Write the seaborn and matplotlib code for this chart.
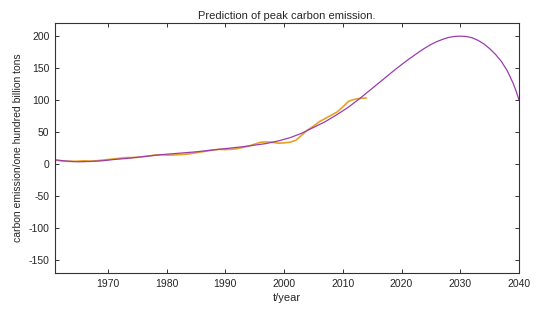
import pandas as pd
import matplotlib
matplotlib.use("Agg")
import matplotlib.pyplot as plt
import seaborn as sns

# === datos ===
anios_reales = list(range(1961, 2015))
emision_real = [6, 5, 4.5, 4, 4.5, 5, 4.5, 5, 6, 7,
                8, 9, 10, 10, 10.5, 11.5, 12.5, 14, 14.5, 14,
                14, 14.5, 15, 16, 17.5, 19, 20.5, 22, 23, 22.5,
                23, 24, 26, 28, 31, 34, 34.5, 34, 32.5, 33,
                34, 37, 45, 53, 59, 66, 71, 76, 81, 89,
                98, 101, 102.5, 103]

anios_ajuste = [1961, 1963, 1965, 1967, 1969, 1971, 1973, 1975, 1977, 1979,
                1981, 1983, 1985, 1987, 1989, 1991, 1993, 1995, 1997, 1999,
                2001, 2003, 2005, 2007, 2009, 2011, 2013, 2015, 2017, 2019,
                2021, 2022, 2023, 2024, 2025, 2026, 2027, 2028, 2029, 2030,
                2031, 2032, 2033, 2034, 2035, 2036, 2037, 2038, 2039, 2039.5,
                2040]
emision_ajuste = [6.5, 4.5, 3.5, 4, 5, 7, 8.5, 10.5, 12.5, 14.5,
                  16, 17.5, 19, 21, 23, 25, 27, 29.5, 32, 36,
                  41, 48, 57, 66, 77, 89, 103, 118, 133, 148,
                  162, 168.5, 175, 181, 186.5, 191, 194.5, 197.5, 199, 199.5,
                  199, 197, 193, 187.5, 180, 171, 160, 145.5, 126, 114,
                  100]

x_ticks = [1970, 1980, 1990, 2000, 2010, 2020, 2030, 2040]
y_ticks = [-150, -100, -50, 0, 50, 100, 150, 200]

sns.set_style("ticks")
plt.rcParams["font.family"] = ["Liberation Sans", "DejaVu Sans"]
plt.rcParams["axes.unicode_minus"] = False

df_real = pd.DataFrame({"t": anios_reales, "e": emision_real})
df_ajuste = pd.DataFrame({"t": anios_ajuste, "e": emision_ajuste})

fig = plt.figure(figsize=(5.57, 3.10), dpi=100)
ax = fig.add_axes([0.0987, 0.1194, 0.8331, 0.8064])

sns.lineplot(data=df_real, x="t", y="e", color="#e8a224", linewidth=1.2, ax=ax)
sns.lineplot(data=df_ajuste, x="t", y="e", color="#9a3cb0", linewidth=0.9, ax=ax)

ax.set_xlim(1961, 2040)
ax.set_ylim(-170, 220)
ax.set_xticks(x_ticks)
ax.set_yticks(y_ticks)
ax.tick_params(direction="in", top=True, right=True, labelsize=7.5, length=3,
               width=0.7, color="#333333", pad=4)
for s in ax.spines.values():
    s.set_linewidth(0.8)
    s.set_color("#333333")

ax.set_title("Prediction of peak carbon emission.", fontsize=8, pad=3)
ax.set_xlabel("t/year", fontsize=8, labelpad=3)
ax.set_ylabel("carbon emission/one hundred billion tons", fontsize=7.5, labelpad=4)

fig.savefig("out.png", dpi=100)
